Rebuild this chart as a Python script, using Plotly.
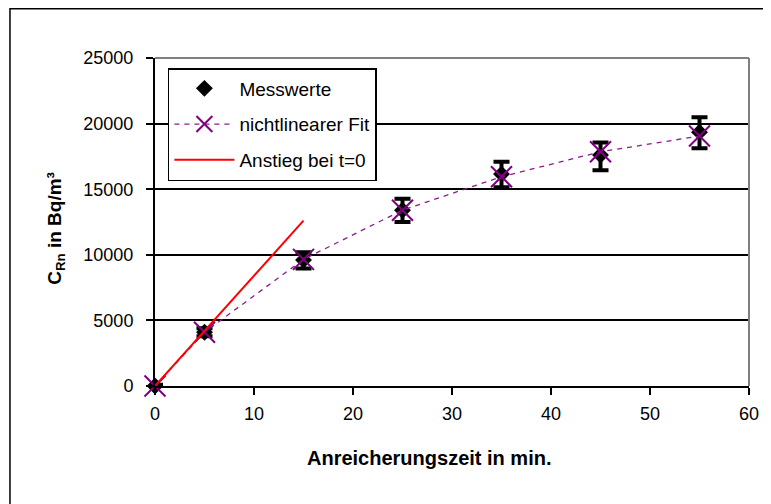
import plotly.graph_objects as go

# Data
t_meas = [0, 5, 15, 25, 35, 45, 55]
c_meas = [0, 4100, 9600, 13400, 16150, 17600, 19350]
err_plus = [100, 300, 600, 870, 950, 950, 1130]
err_minus = [100, 300, 650, 900, 1000, 1150, 1220]

t_fit = [0, 5, 15, 25, 35, 45, 55]
c_fit = [0, 4100, 9650, 13400, 15950, 17850, 19050]

t_lin = [0, 15]
c_lin = [0, 12600]

x_ticks = [0, 10, 20, 30, 40, 50, 60]
y_ticks = [0, 5000, 10000, 15000, 20000, 25000]

FONT = "Liberation Sans, Arial, sans-serif"

W, H = 763, 496
L, R, T, B = 147, 17, 50, 118
PW = W - L - R
PH = H - T - B

fig = go.Figure()

fig.add_trace(go.Scatter(
    x=t_meas, y=c_meas, mode="markers", name="Messwerte", legendgroup="a",
    marker=dict(symbol="diamond", size=13, color="black"), cliponaxis=False,
    error_y=dict(type="data", symmetric=False, array=err_plus, arrayminus=err_minus,
                 color="black", thickness=4, width=8),
))
fig.add_trace(go.Scatter(
    x=t_fit, y=c_fit, mode="lines+markers", name="nichtlinearer Fit", legendgroup="b",
    line=dict(color="#8B1A8B", width=1.3, dash="5px,5px"), cliponaxis=False,
    marker=dict(symbol="x-thin-open", size=21, color="#800080",
                line=dict(color="#800080", width=2)),
))
fig.add_trace(go.Scatter(
    x=t_lin, y=c_lin, mode="lines", name="Anstieg bei t=0", legendgroup="c",
    line=dict(color="#FF0000", width=2),
))

fig.update_layout(
    width=W, height=H,
    margin=dict(l=L, r=R, t=T, b=B),
    paper_bgcolor="white", plot_bgcolor="white",
    font=dict(family=FONT, size=18, color="black"),
    showlegend=True,
    legend=dict(x=(160 - L) / PW, y=(H - B - 60) / PH, xanchor="left", yanchor="top",
                bgcolor="white", bordercolor="black", borderwidth=1.5,
                font=dict(size=19), traceorder="grouped",
                tracegroupgap=8, itemwidth=60),
    xaxis=dict(range=[0, 60], tickvals=x_ticks, tickformat="d",
               showgrid=False, zeroline=False,
               showline=True, linecolor="black", linewidth=2,
               ticks="outside", ticklen=7, tickwidth=1.5, tickcolor="black",
               ticklabelstandoff=3),
    yaxis=dict(range=[0, 25000], tickvals=y_ticks, tickformat="d",
               showgrid=True, gridcolor="black", gridwidth=1.5,
               zeroline=False,
               showline=True, linecolor="black", linewidth=2,
               ticks="outside", ticklen=7, tickwidth=1.5, tickcolor="black",
               ticklabelstandoff=9),
    shapes=[
        dict(type="line", xref="paper", yref="paper", x0=0, x1=1, y0=1, y1=1,
             line=dict(color="#808080", width=2)),
        dict(type="line", xref="paper", yref="paper", x0=1, x1=1, y0=0, y1=1,
             line=dict(color="#808080", width=2)),
        dict(type="rect", xref="paper", yref="paper",
             x0=(0.75 - L) / PW, x1=1.2, y0=-0.6, y1=(H - B - 0.75) / PH,
             line=dict(color="black", width=1.5), layer="below"),
    ],
    annotations=[
        dict(text="<b>Anreicherungszeit in min.</b>", xref="paper", yref="paper",
             x=(423 - L) / PW, y=(H - B - 450) / PH, xanchor="center", yanchor="middle",
             showarrow=False, font=dict(size=20)),
        dict(text="<b>C<sub>Rn</sub> in Bq/m³</b>", xref="paper", yref="paper",
             x=(47 - L) / PW, y=(H - B - 220) / PH, xanchor="center", yanchor="middle",
             textangle=-90, showarrow=False, font=dict(size=19)),
    ],
)

fig.write_html("out.html")
